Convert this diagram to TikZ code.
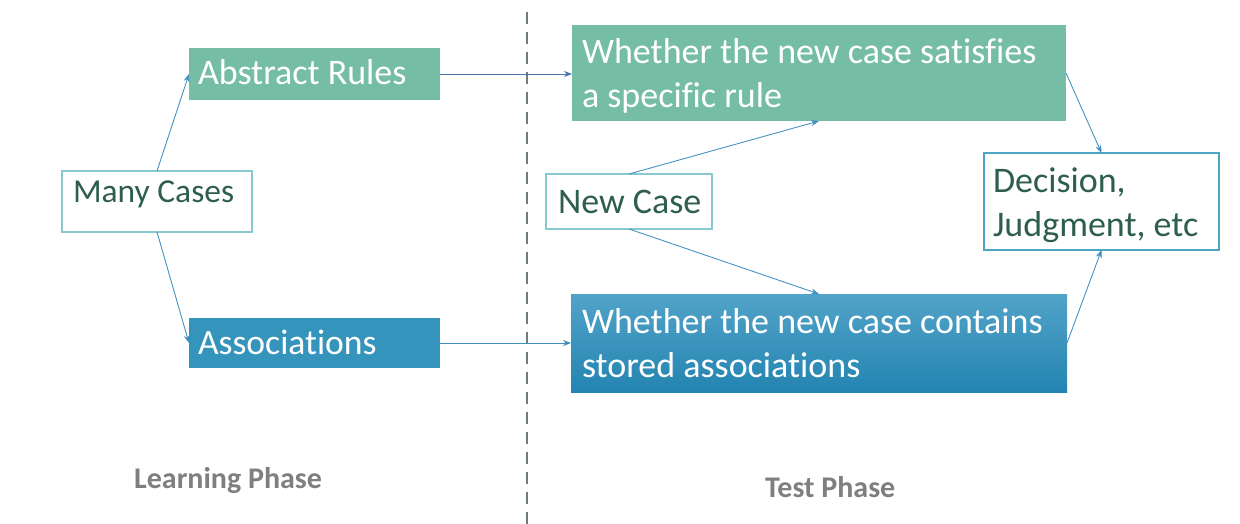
\documentclass[tikz,border=0pt]{standalone}
\usepackage{fontspec}
\setmainfont{Carlito}[Ligatures=NoCommon]
\usetikzlibrary{arrows.meta}
\definecolor{rulegreen}{HTML}{76BDA5}
\definecolor{assocblue}{HTML}{3594BC}
\definecolor{gradtop}{HTML}{52A3C8}
\definecolor{gradbot}{HTML}{2384B1}
\definecolor{lightedge}{HTML}{86C9D0}
\definecolor{darkedge}{HTML}{4DA5C6}
\definecolor{darktext}{HTML}{2E5E4E}
\definecolor{arrowblue}{HTML}{3E8EC0}
\definecolor{arrowdeep}{HTML}{4A78AC}
\definecolor{phasegray}{HTML}{7F7F7F}
\definecolor{dashgray}{HTML}{6E7B7B}
\tikzset{
  box/.style={rectangle, anchor=north west, inner sep=0pt, outer sep=0pt},
  whitebox/.style={box, fill=white, draw=lightedge, line width=1.4pt},
  greenbox/.style={box, fill=rulegreen},
  bluebox/.style={box, fill=assocblue},
  gradbox/.style={box, top color=gradtop, bottom color=gradbot},
  txt/.style={inner sep=0pt, outer sep=0pt, anchor=base west},
  multitxt/.style={inner sep=0pt, outer sep=0pt, anchor=north west, align=left},
  conn/.style={draw=arrowblue, line width=0.85pt, -{Stealth[length=8pt,width=6pt]}},
  phase/.style={inner sep=0pt, anchor=base west, text=phasegray, font=\bfseries\fontsize{30}{34}\selectfont},
  dashline/.style={draw=dashgray, line width=2.6pt, dash pattern=on 12pt off 8pt}
}
\begin{document}
\begin{tikzpicture}[x=1pt,y=-1pt]
\useasboundingbox (0,0) rectangle (1240,524);
\fill[white] (0,0) rectangle (1240,524);
% divider
\coordinate (dtop) at (527,12);
\coordinate (dbot) at (527,524);
\draw[dashline] (dtop) -- (dbot);
% boxes
\node[whitebox, minimum width=190pt, minimum height=61pt] (mc) at (62,171) {};
\node[greenbox, minimum width=251pt, minimum height=52pt] (ar) at (189,48) {};
\node[bluebox, minimum width=251pt, minimum height=50pt] (as) at (189,318) {};
\node[greenbox, minimum width=494pt, minimum height=96pt] (ws) at (572,25) {};
\node[whitebox, minimum width=166pt, minimum height=55pt] (nc) at (546,174) {};
\node[gradbox, minimum width=496pt, minimum height=98pt] (wc) at (571,294) {};
\node[whitebox, draw=darkedge, minimum width=235pt, minimum height=97pt] (dj) at (984,153) {};
% texts
\node[txt, text=darktext, font=\fontsize{33.5}{40}\selectfont] (mct) at (73,203) {Many Cases};
\node[txt, text=white, font=\fontsize{36}{42}\selectfont] (art) at (198,85) {Abstract Rules};
\node[txt, text=white, font=\fontsize{35.6}{42}\selectfont] (ast) at (198,354) {Associations};
\node[multitxt, text=white, font=\fontsize{36}{44}\selectfont] (wst) at (582,39) {Whether the new case satisfies\\a specific rule};
\node[txt, text=darktext, font=\fontsize{36}{42}\selectfont] (nct) at (558,213) {New Case};
\node[multitxt, text=white, font=\fontsize{36}{44}\selectfont] (wct) at (582,309) {Whether the new case contains\\stored associations};
\node[multitxt, text=darktext, font=\fontsize{36}{44}\selectfont] (djt) at (993,168) {Decision,\\Judgment, etc};
\node[phase] (lp) at (134,488) {Learning Phase};
\node[phase] (tp) at (765,497) {Test Phase};
% connectors
\draw[conn] (mc.north) -- (ar.west);
\draw[conn] (mc.south) -- (as.west);
\draw[conn, draw=arrowdeep] (ar.east) -- (ar.east -| ws.west);
\draw[conn] (as.east) -- (as.east -| wc.west);
\draw[conn] (nc.north) -- (ws.south);
\draw[conn] (nc.south) -- (wc.north);
\draw[conn] (ws.east) -- (dj.north);
\draw[conn] (wc.east) -- (dj.south);
\end{tikzpicture}
\end{document}
